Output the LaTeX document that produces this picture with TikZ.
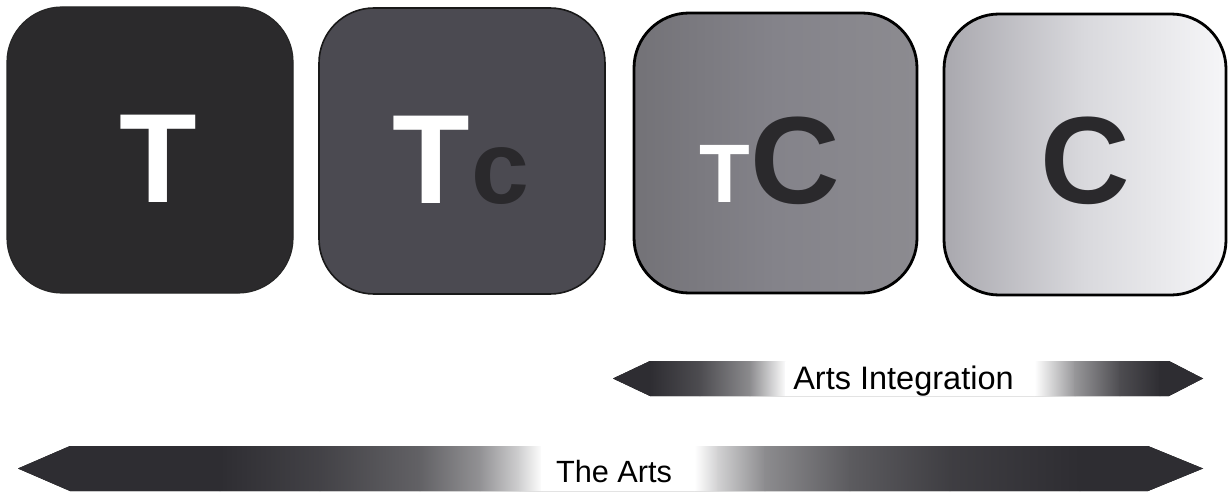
\documentclass[tikz,border=0pt]{standalone}
\usepackage{fontspec}
\setmainfont{Liberation Sans}
\definecolor{ink}{HTML}{2A292C}
\definecolor{boxA}{HTML}{2B2A2C}
\definecolor{boxB}{HTML}{4B4A51}
\definecolor{boxCl}{HTML}{737277}
\definecolor{boxCm}{HTML}{84838A}
\definecolor{boxCr}{HTML}{8C8B90}
\definecolor{boxDl}{HTML}{A9A8AE}
\definecolor{boxDm}{HTML}{D9D9DD}
\definecolor{boxDr}{HTML}{F6F6F8}
\definecolor{bard}{HTML}{2E2D32}
\begin{document}
\begin{tikzpicture}[x=1pt,y=-1pt,
  tile/.style={rounded corners=55pt, minimum width=286pt, minimum height=286pt, inner sep=0pt},
  bigletter/.style={inner sep=0pt, anchor=base, font=\fontsize{127}{127}\selectfont\bfseries},
  bigc/.style={inner sep=0pt, anchor=base, font=\fontsize{124}{124}\selectfont\bfseries, text=ink},
  smallletter/.style={inner sep=0pt, anchor=base, font=\fontsize{#1}{#1}\selectfont\bfseries},
  barlabel/.style={inner sep=0pt, anchor=base, font=\fontsize{#1}{#1}\selectfont}]
\useasboundingbox[fill=white] (0,0) rectangle (1230,500);

% tiles
\node[tile, fill=boxA, draw=black!85, line width=1.2pt] (t1) at (150,150) {};
\node[tile, fill=boxB, draw=black!90, line width=1.6pt] (t2) at (462,151) {};
\node[tile, left color=boxCl, right color=boxCr, middle color=boxCm, draw=black, line width=2.8pt, minimum width=283pt, minimum height=280pt] (t3) at (775.5,153) {};
\node[tile, left color=boxDl, right color=boxDr, middle color=boxDm, draw=black, line width=2.8pt, minimum width=282pt, minimum height=281pt] (t4) at (1085,154.5) {};

% letters
\node[bigletter, text=white] (l1) at (158,202) {T};
\node[bigletter, text=white] (l2) at (431,203) {T};
\node[smallletter=104, text=ink] (l2c) at (500,203) {c};
\node[smallletter=83, text=white] (l3) at (724.5,202) {T};
\node[bigc] (l3c) at (795.5,203) {C};
\node[bigc] (l4c) at (1085.5,203) {C};

% Arts Integration bar
\begin{scope}
\clip (613,378.5) -- (650,361) -- (1169,361) -- (1203,378.5) -- (1169,396) -- (650,396) -- cycle;
\foreach \xa/\pa/\xb/\pb in {600/100/650/100, 650/100/700/85, 700/85/750/55, 750/55/786/0, 786/0/1035/0, 1035/0/1075/50, 1075/50/1120/85, 1120/85/1160/100, 1160/100/1210/100}
  \fill[left color=bard!\pa!white, right color=bard!\pb!white] (\xa-0.4,355) rectangle (\xb+0.4,400);
\end{scope}
\node[barlabel=32.5] (ai) at (903.5,389) {Arts Integration};

% The Arts bar
\begin{scope}
\clip (18,468.5) -- (70,446) -- (1148,446) -- (1203,468.5) -- (1148,491) -- (70,491) -- cycle;
\foreach \xa/\pa/\xb/\pb in {0/100/220/100, 220/100/320/90, 320/90/420/75, 420/75/480/52, 480/52/520/22, 520/22/542/0, 542/0/695/0, 695/0/718/22, 718/22/765/55, 765/55/850/78, 850/78/950/92, 950/92/1080/100, 1080/100/1230/100}
  \fill[left color=bard!\pa!white, right color=bard!\pb!white] (\xa-0.4,440) rectangle (\xb+0.4,500);
\end{scope}
\node[barlabel=30.7] (arts) at (614,482) {The Arts};
\end{tikzpicture}
\end{document}
